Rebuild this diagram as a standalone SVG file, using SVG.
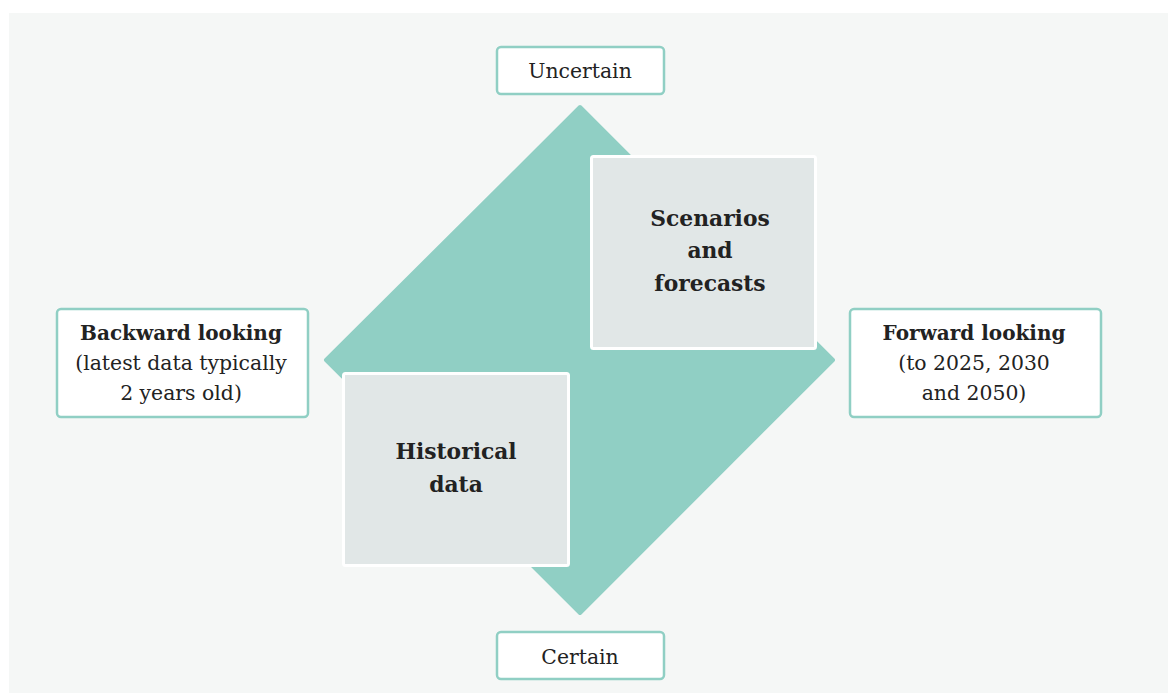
<svg xmlns="http://www.w3.org/2000/svg" width="1168" height="693" viewBox="0 0 1168 693">
<style>
.lbl{fill:#fff;stroke:#90cfc4;stroke-width:2.5}
.quad{fill:#e1e7e7;stroke:#fff;stroke-width:3}
text{font-family:"DejaVu Serif","Liberation Serif",serif;fill:#222;text-anchor:middle}
.t{font-size:20.4px}
.b{font-size:20px;font-weight:bold}
.q{font-size:21.8px;font-weight:bold}
</style>
<rect x="0" y="0" width="1168" height="693" fill="#fff"/>
<rect x="9" y="13" width="1159" height="680" fill="#f5f7f6"/>
<g id="diamond">
<polygon points="580,107 833,360 580,613 326,360" fill="#90cfc4" stroke="#90cfc4" stroke-width="4" stroke-linejoin="round"/>
</g>
<g id="scenarios">
<rect class="quad" x="591.5" y="156.5" width="224" height="192" rx="2"/>
<text class="q" x="710" y="226">Scenarios</text>
<text class="q" x="710" y="258">and</text>
<text class="q" x="710" y="291">forecasts</text>
</g>
<g id="historical">
<rect class="quad" x="343.5" y="373.5" width="225" height="192" rx="2"/>
<text class="q" x="456" y="459">Historical</text>
<text class="q" x="456" y="492">data</text>
</g>
<g id="uncertain">
<rect class="lbl" x="497" y="47" width="167" height="47" rx="4"/>
<text class="t" x="580" y="78">Uncertain</text>
</g>
<g id="certain">
<rect class="lbl" x="497" y="632" width="167" height="47" rx="4"/>
<text class="t" x="580" y="664">Certain</text>
</g>
<g id="backward">
<rect class="lbl" x="57" y="309" width="251" height="108" rx="4"/>
<text class="b" x="181" y="340">Backward looking</text>
<text class="t" x="181" y="370">(latest data typically</text>
<text class="t" x="181" y="400">2 years old)</text>
</g>
<g id="forward">
<rect class="lbl" x="850" y="309" width="251" height="108" rx="4"/>
<text class="b" x="974" y="340">Forward looking</text>
<text class="t" x="974" y="370">(to 2025, 2030</text>
<text class="t" x="974" y="400">and 2050)</text>
</g>
<g id="connectors"></g>
</svg>
